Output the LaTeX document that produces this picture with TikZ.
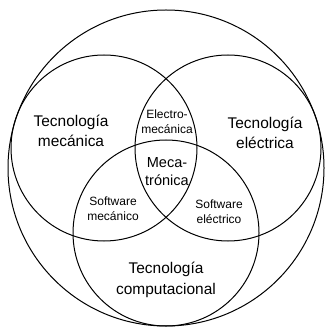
\documentclass[tikz,border=0pt]{standalone}
\usepackage{fontspec}
\setmainfont{Liberation Sans}

\tikzset{every picture/.style={line width=0.75pt}}
\tikzset{
  areatxt/.style={align=center,inner sep=0.75pt,font=\fontsize{11.6}{15.2}\selectfont},
  lenstxt/.style={align=center,inner sep=0.75pt,font=\fontsize{9}{11.3}\selectfont},
  coretxt/.style={align=center,inner sep=0.75pt,font=\fontsize{10.9}{13.5}\selectfont}
}

\begin{document}
\begin{tikzpicture}[x=0.75pt,y=0.75pt,yscale=-1,xscale=1]
	%set diagram left start at 0, and has height of 327
	\useasboundingbox (0,0) rectangle (325,327);
	
	%Shape: Circle [outer]
	\draw  (166,168) circle [radius=158] ;
	%Shape: Circle [mecanica]
	\draw  (104,148) circle [radius=93] ;
	%Shape: Circle [electrica]
	\draw  (228,148) circle [radius=93] ;
	%Shape: Circle [computacional]
	\draw  (166,233) circle [radius=93] ;
	
	% Text Node
	\node [areatxt] (mec) at (71,131) {Tecnología\\mecánica};
	% Text Node
	\node [areatxt] (ele) at (265,133) {Tecnología\\eléctrica};
	% Text Node
	\node [areatxt] (comp) at (166,280) {Tecnología\\computacional};
	% Text Node
	\node [lenstxt] (elemec) at (167,122) {Electro-\\mecánica};
	% Text Node
	\node [coretxt] (mecatr) at (167,172) {Meca-\\trónica};
	% Text Node
	\node [lenstxt] (swmec) at (113,209) {Software\\mecánico};
	% Text Node
	\node [lenstxt] (swele) at (219,212) {Software\\eléctrico};
	
\end{tikzpicture}
\end{document}
